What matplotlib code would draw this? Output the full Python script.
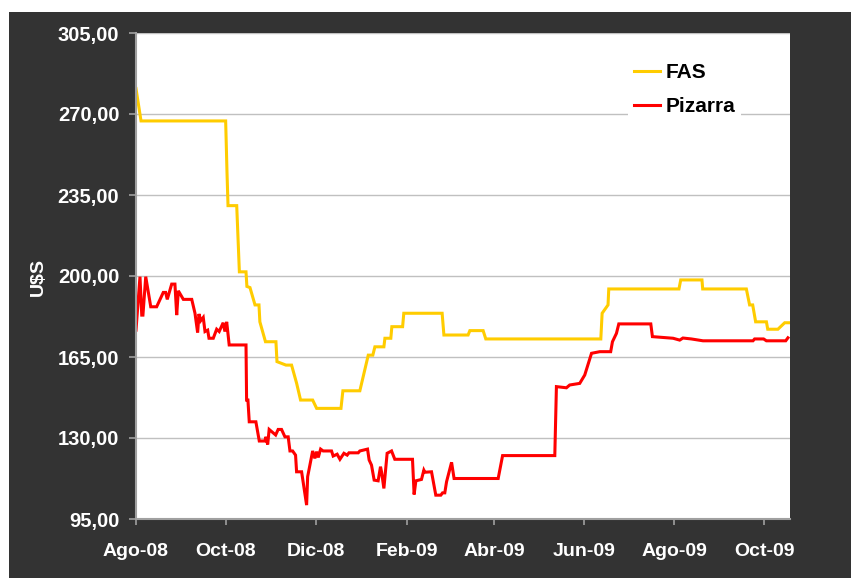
import pandas as pd
import numpy as np
import matplotlib.pyplot as plt
import matplotlib.dates as mdates
from matplotlib.patches import Rectangle
from matplotlib.ticker import FuncFormatter

plt.rcParams['font.family'] = ['Liberation Sans', 'DejaVu Sans']

# Datos: días desde 01-08-2008 y precio en U$S
inicio = pd.Timestamp('2008-08-01')

dias_fas = [0, 3.4, 60.8, 61.7, 62.4, 68.3, 70.1, 74.6, 75.2, 77.3, 80.7, 83.4, 84.0,
            87.8, 94.9, 95.6, 101.7, 105.5, 108.9, 111.6, 119.8, 122.5, 139.0, 140.3,
            151.8, 157.5, 160.6, 162.0, 168.1, 168.8, 172.8, 173.5, 180.8, 181.6, 207.6,
            208.8, 225.2, 226.4, 235.4, 237.2, 315.2, 316.1, 320.1, 320.6, 368.2, 369.4,
            383.8, 384.3, 413.9, 416.1, 418.2, 420.2, 427.5, 428.4, 435.3, 439.9, 443.3]
fas = [281.0, 267.0, 267.0, 245.0, 230.4, 230.4, 201.8, 201.8, 195.5, 195.0, 187.5, 187.5,
       180.2, 171.6, 171.6, 163.0, 161.5, 161.5, 153.7, 146.4, 146.4, 142.8, 142.8, 150.4,
       150.4, 165.8, 165.8, 169.4, 169.4, 173.1, 173.1, 178.1, 178.1, 183.9, 183.9, 174.5,
       174.5, 176.4, 176.4, 172.8, 172.8, 183.9, 187.5, 194.4, 194.4, 198.3, 198.3, 194.4,
       194.4, 187.5, 187.5, 180.2, 180.2, 177.0, 177.0, 179.8, 179.8]

dias_pizarra = [0, 2.7, 3.9, 4.7, 6.6, 10.0, 14.0, 18.5, 20.1, 21.2, 24.2, 26.4, 27.6,
                28.7, 32.1, 37.8, 40.0, 41.8, 42.7, 43.9, 45.6, 46.8, 48.6, 49.5, 52.4,
                54.7, 56.4, 59.1, 60.3, 61.5, 63.2, 74.6, 75.0, 75.9, 76.8, 81.3, 83.6,
                87.4, 88.1, 89.3, 90.3, 94.7, 96.4, 98.7, 101.0, 103.2, 104.4, 106.2,
                108.2, 108.9, 112.3, 115.7, 116.4, 119.8, 121.3, 122.5, 123.6, 125.2,
                126.9, 132.6, 133.7, 136.4, 138.3, 141.0, 143.2, 144.4, 150.7, 151.8,
                157.0, 158.1, 159.7, 161.5, 164.2, 165.8, 166.5, 168.1, 170.3, 173.3,
                175.5, 187.5, 188.6, 189.8, 193.6, 195.2, 195.9, 200.4, 203.3, 206.7,
                207.9, 209.4, 210.6, 214.0, 215.7, 245.6, 248.6, 284.0, 285.1, 291.9,
                294.1, 300.9, 304.3, 308.9, 314.5, 321.9, 323.1, 325.8, 327.4, 349.1,
                350.2, 364.2, 368.7, 370.9, 376.6, 384.5, 418.4, 419.5, 425.6, 427.5,
                440.6, 442.1]
pizarra = [176.6, 199.7, 183.1, 183.1, 199.7, 186.7, 186.7, 192.9, 192.9, 189.9, 196.5,
           196.5, 183.1, 193.6, 189.9, 189.9, 183.9, 175.5, 183.6, 180.7, 182.1, 176.0,
           176.6, 173.1, 173.1, 177.0, 176.0, 179.8, 176.0, 180.2, 170.2, 170.2, 146.4,
           146.4, 137.0, 137.0, 128.7, 128.7, 130.5, 127.2, 133.7, 131.3, 133.7, 133.7,
           130.5, 130.5, 124.4, 124.4, 122.6, 115.4, 115.4, 101.0, 113.3, 124.4, 121.2,
           124.1, 121.6, 125.2, 124.4, 124.4, 122.2, 123.0, 120.8, 123.4, 122.6, 123.6,
           123.6, 124.4, 125.2, 120.5, 118.3, 111.8, 111.5, 117.6, 115.4, 108.2, 123.4,
           124.4, 120.8, 120.8, 105.6, 111.5, 112.1, 116.1, 115.2, 115.4, 105.3, 105.3,
           106.3, 106.3, 111.1, 119.5, 112.5, 112.5, 122.4, 122.4, 152.2, 151.7, 152.9,
           153.6, 157.2, 166.6, 167.3, 167.3, 171.6, 175.2, 179.3, 179.3, 173.8, 173.1,
           172.3, 173.2, 172.8, 172.0, 172.0, 172.8, 172.8, 172.0, 172.0, 173.3]

fechas_ticks = ['2008-08-01', '2008-10-01', '2008-12-01', '2009-02-01',
                '2009-04-01', '2009-06-01', '2009-08-01', '2009-10-01']
etiquetas_x = ['Ago-08', 'Oct-08', 'Dic-08', 'Feb-09', 'Abr-09', 'Jun-09', 'Ago-09', 'Oct-09']
y_ticks = [95, 130, 165, 200, 235, 270, 305]

fecha_fas = inicio + pd.to_timedelta(dias_fas, unit='D')
fecha_piz = inicio + pd.to_timedelta(dias_pizarra, unit='D')

fig = plt.figure(figsize=(8.51, 5.78), dpi=100, facecolor='white')
# fondo gris oscuro
fig.patches.append(Rectangle((9 / 851, 0), 1, 1 - 12 / 578, transform=fig.transFigure,
                             facecolor='#333333', edgecolor='none', zorder=-10))

ax = fig.add_axes([136 / 851, 1 - 519 / 578, (790 - 136) / 851, (519 - 33) / 578])
ax.set_zorder(5)
ax.set_facecolor('white')

ax.plot(fecha_fas, fas, color='#FFCC00', lw=2.2, label='FAS', solid_joinstyle='miter')
ax.plot(fecha_piz, pizarra, color='#FF0000', lw=2.2, label='Pizarra', solid_joinstyle='miter')

ax.set_ylim(95, 305)
ax.set_yticks(y_ticks)
ax.yaxis.set_major_formatter(FuncFormatter(lambda v, p: f'{v:.2f}'.replace('.', ',')))
ax.set_xlim(inicio, inicio + pd.Timedelta(days=443.5))
ax.set_xticks(pd.to_datetime(fechas_ticks))
ax.set_xticklabels(etiquetas_x)

ax.grid(axis='y', color='#c0c0c0', lw=1)
ax.set_axisbelow(True)
for s in ['top', 'right']:
    ax.spines[s].set_visible(False)
for s in ['left', 'bottom']:
    ax.spines[s].set_color('#a0a0a0')
    ax.spines[s].set_linewidth(1.5)

ax.tick_params(axis='y', colors='#a0a0a0', length=5, width=1.2, pad=7,
               labelcolor='white', labelsize=14.5)
ax.tick_params(axis='x', colors='#a0a0a0', length=4.5, width=1.2, pad=13,
               labelcolor='white', labelsize=14)
for lab in ax.get_xticklabels() + ax.get_yticklabels():
    lab.set_fontweight('bold')

fig.text(38 / 851, 1 - 277 / 578, 'U$S', rotation=90, color='white', fontsize=14,
         fontweight='bold', ha='center', va='center')

leg = ax.legend(loc='upper left', bbox_to_anchor=(0.736, 0.972), frameon=True,
                framealpha=1, edgecolor='none', fancybox=False, handlelength=1.25,
                handletextpad=0.25, labelspacing=0.7, borderpad=0.3,
                prop={'weight': 'bold', 'size': 15})

fig.savefig('out.png', dpi=100, facecolor=fig.get_facecolor())
